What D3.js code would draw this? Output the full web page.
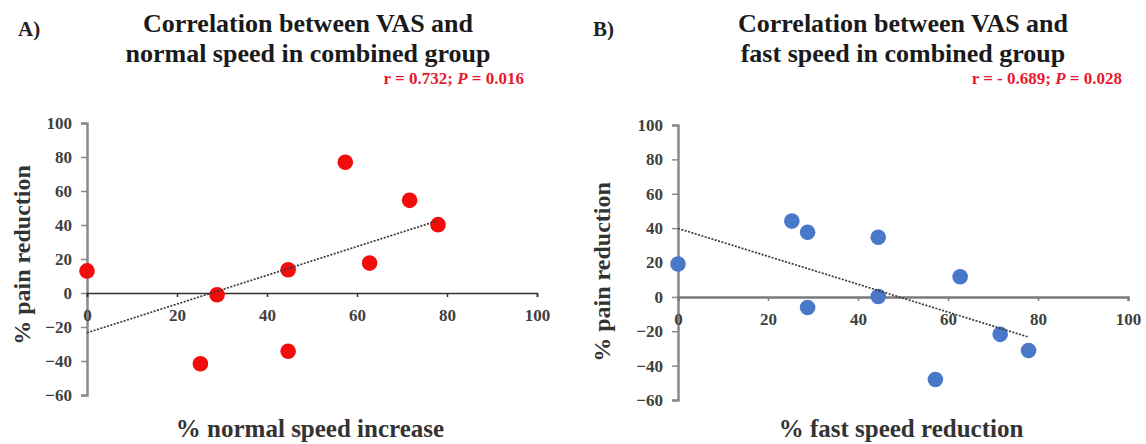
<!DOCTYPE html>
<html>
<head>
<meta charset="utf-8">
<script src="https://cdn.jsdelivr.net/npm/d3@7"></script>
<style>
  body { margin: 0; background: #fff; }
  svg { display: block; }
  text { font-family: "Liberation Serif", "Times New Roman", serif; font-weight: bold; }
</style>
</head>
<body>
<svg id="chart" width="1146" height="444"></svg>
<script>
// panel A: normal speed increase vs pain reduction
var normalX = [0, 28.9, 25.2, 44.7, 44.7, 57.4, 62.8, 71.7, 78.0];
var normalY = [13, -1, -41.6, 13.7, -34.3, 76.9, 17.6, 54.5, 40.2];

// panel B: fast speed reduction vs pain reduction
var fastX = [0, 25.3, 28.8, 28.8, 44.5, 44.5, 57.2, 62.7, 71.6, 77.9];
var fastY = [19.1, 44.1, 37.6, -6.2, 34.7, 0.2, -48.1, 11.7, -21.8, -31.2];

var xTicks = [0, 20, 40, 60, 80, 100];
var yTicks = [-60, -40, -20, 0, 20, 40, 60, 80, 100];

var titlesA = ["Correlation between VAS and", "normal speed in combined group"];
var titlesB = ["Correlation between VAS and", "fast speed in combined group"];
var statsA = ["r = 0.732; ", "P", " = 0.016"];
var statsB = ["r = - 0.689; ", "P", " = 0.028"];

var svg = d3.select("#chart");
var SERIF = "'Liberation Serif', 'Times New Roman', serif";

// least squares line, drawn from x=0 to the largest x like Excel does
function fitline(xs, ys) {
  var mx = d3.mean(xs), my = d3.mean(ys);
  var sxy = 0, sxx = 0;
  for (var i = 0; i < xs.length; i++) {
    sxy += (xs[i] - mx) * (ys[i] - my);
    sxx += (xs[i] - mx) * (xs[i] - mx);
  }
  var b = sxy / sxx, a = my - b * mx;
  var x1 = d3.max(xs);
  return [[0, a], [x1, a + b * x1]];
}

function styleticks(ax) {
  ax.attr("font-family", SERIF).attr("font-size", 17).attr("font-weight", "bold");
  ax.selectAll(".tick text").attr("fill", "#404040");
}

function panel(o) {
  var g = svg.append("g");
  var x = d3.scaleLinear().domain([0, 100]).range(o.xr);
  var y = d3.scaleLinear().domain([-60, 100]).range(o.yr);

  // panel letter + title
  g.append("text").attr("x", o.letterX).attr("y", 36)
    .style("font-size", "21px").attr("fill", "#222").text(o.letter);
  g.selectAll("text.title").data(o.titles).enter().append("text")
    .attr("class", "title")
    .attr("x", o.titleX).attr("y", function(d, i) { return 32 + i * 30; })
    .attr("text-anchor", "middle")
    .style("font-size", "26px").attr("fill", "#1a1a1a")
    .text(function(d) { return d; });

  var st = g.append("text").attr("x", o.statX).attr("y", 84)
    .attr("text-anchor", "end").style("font-size", "17px").attr("fill", "#e8182e");
  st.selectAll("tspan").data(o.stats).enter().append("tspan")
    .style("font-style", function(d, i) { return i == 1 ? "italic" : "normal"; })
    .text(function(d) { return d; });

  // y axis
  var ya = g.append("g").attr("transform", "translate(" + x(0) + ",0)")
    .call(d3.axisLeft(y).tickValues(yTicks).tickSize(6).tickPadding(9));
  ya.select(".domain").attr("stroke", "#8a8a8a").attr("stroke-width", 2.5);
  ya.selectAll(".tick line").attr("stroke", "#8a8a8a").attr("stroke-width", 1.5);
  styleticks(ya);

  // x axis sits on y = 0
  var xa = g.append("g").attr("transform", "translate(0," + y(0) + ")")
    .call(d3.axisBottom(x).tickValues(xTicks).tickSize(4).tickPadding(12));
  xa.select(".domain").attr("stroke", o.xAxisColor).attr("stroke-width", o.xAxisWidth);
  xa.selectAll(".tick line").attr("stroke", o.xAxisColor).attr("stroke-width", 1.5);
  styleticks(xa);

  // axis titles
  g.append("text")
    .attr("transform", "translate(" + o.yTitleX + "," + o.yTitleY + ") rotate(-90)")
    .attr("text-anchor", "middle").attr("dy", "0.35em")
    .style("font-size", "24px").attr("fill", "#333").text("% pain reduction");
  g.append("text").attr("x", o.xTitleX).attr("y", 437)
    .attr("text-anchor", "middle")
    .style("font-size", "25px").attr("fill", "#333").text(o.xTitle);

  // points
  var pts = o.xs.map(function(d, i) { return [d, o.ys[i]]; });
  g.selectAll("circle").data(pts).enter().append("circle")
    .attr("cx", function(d) { return x(d[0]); })
    .attr("cy", function(d) { return y(d[1]); })
    .attr("r", 7.8)
    .attr("fill", o.color);

  // dotted trend line
  var tl = fitline(o.xs, o.ys);
  g.append("path")
    .attr("d", d3.line().x(function(d) { return x(d[0]); }).y(function(d) { return y(d[1]); })(tl))
    .attr("fill", "none").attr("stroke", "#3a3a3a").attr("stroke-width", 1.7)
    .attr("stroke-dasharray", "2,1.5");
}

panel({
  xr: [87, 537], yr: [395, 123],
  letter: "A)", letterX: 18, titles: titlesA, titleX: 308, stats: statsA, statX: 524,
  xAxisColor: "#333", xAxisWidth: 1.6,
  yTitleX: 22, yTitleY: 255, xTitle: "% normal speed increase", xTitleX: 310,
  xs: normalX, ys: normalY, color: "#f20d0d"
});

panel({
  xr: [678, 1128], yr: [400, 125],
  letter: "B)", letterX: 593, titles: titlesB, titleX: 903, stats: statsB, statX: 1122,
  xAxisColor: "#7a7a7a", xAxisWidth: 2.5,
  yTitleX: 602, yTitleY: 272, xTitle: "% fast speed reduction", xTitleX: 901,
  xs: fastX, ys: fastY, color: "#4a78c8"
});
</script>
</body>
</html>
